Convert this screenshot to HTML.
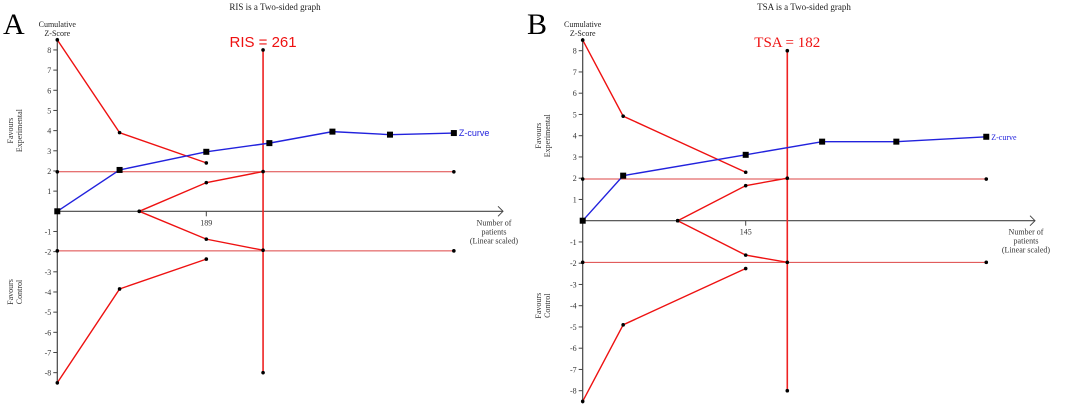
<!DOCTYPE html>
<html><head><meta charset="utf-8"><style>
html,body{margin:0;padding:0;background:#fff;}
svg{display:block;font-family:"Liberation Serif",serif;}
</style></head><body>
<svg id="chart" width="1065" height="406" viewBox="0 0 1065 406" xmlns="http://www.w3.org/2000/svg"></svg>
<script>
// Panel A data
const aZx = [0, 79, 189, 269, 349, 422, 503];
const aZy = [0, 2.05, 2.95, 3.38, 3.95, 3.8, 3.88];
const aUpX = [0, 79, 189];
const aUpY = [8.5, 3.9, 2.4];
const aLoX = [0, 79, 189];
const aLoY = [-8.5, -3.85, -2.37];
const aFutX = [104, 189, 261];
const aFutUpY = [0, 1.42, 1.97];
const aFutLoY = [0, -1.38, -1.93];
const aIS = 261;
const aTick = 189;
const aXMax = 503;
// Panel B data
const bZx = [0, 36, 145, 213, 279, 359];
const bZy = [0, 2.12, 3.1, 3.72, 3.72, 3.95];
const bUpX = [0, 36, 145];
const bUpY = [8.5, 4.92, 2.28];
const bLoX = [0, 36, 145];
const bLoY = [-8.5, -4.9, -2.25];
const bFutX = [84.5, 145, 182];
const bFutUpY = [0, 1.65, 2.0];
const bFutLoY = [0, -1.62, -1.96];
const bIS = 182;
const bTick = 145;
const bXMax = 359;
const yTicks = [8,7,6,5,4,3,2,1,-1,-2,-3,-4,-5,-6,-7,-8];
const conv = 1.96;

const NS = "http://www.w3.org/2000/svg";
const svg = document.getElementById('chart');
function mk(tag, attrs, parent, text){
  const e = document.createElementNS(NS, tag);
  for (const k in attrs) e.setAttribute(k, attrs[k]);
  if (text !== undefined) e.textContent = text;
  (parent||svg).appendChild(e);
  return e;
}
function panel(o){
  const g = mk('g', {});
  
  
  const X = v => o.x0 + v * o.sx;
  const Y = v => o.y0 - v * o.sy;
  let t;
  t = mk('text', {x:o.titleX, y:10, 'font-size':9, 'text-anchor':'middle', fill:'#222'}, g, o.title);
   
  t = mk('text', {x:o.letterX, y:34, 'font-size':30, fill:'#000'}, g, o.letter);
   
  t = mk('text', {x:o.x0, y:27, 'font-size':8, 'text-anchor':'middle', fill:'#222'}, g, 'Cumulative');
   
  t = mk('text', {x:o.x0, y:36, 'font-size':8, 'text-anchor':'middle', fill:'#222'}, g, 'Z-Score');
   
  // side labels
  const fe = mk('text', {transform:`translate(${o.sideX},${Y(4)}) rotate(-90)`, 'font-size':8, 'text-anchor':'middle', fill:'#333'}, g);
   
  mk('tspan', {x:0, dy:0}, fe, 'Favours');
  mk('tspan', {x:0, dy:9}, fe, 'Experimental');
  const fc = mk('text', {transform:`translate(${o.sideX},${Y(-4)}) rotate(-90)`, 'font-size':8, 'text-anchor':'middle', fill:'#333'}, g);
   
  mk('tspan', {x:0, dy:0}, fc, 'Favours');
  mk('tspan', {x:0, dy:9}, fc, 'Control');
  // y axis
  let l = mk('line', {x1:X(0), y1:Y(8.6), x2:X(0), y2:Y(-8.6), stroke:'#444', 'stroke-width':1.2}, g);
   
  yTicks.forEach(v => {
    const tk = mk('line', {x1:X(0)-4, y1:Y(v), x2:X(0), y2:Y(v), stroke:'#444'}, g);
     
    const tl = mk('text', {x:X(0)-6, y:Y(v)+3, 'font-size':8, 'text-anchor':'end', fill:'#333'}, g, String(v));
     
  });
  // x axis
  l = mk('line', {x1:X(0), y1:Y(0), x2:o.axisEnd, y2:Y(0), stroke:'#444', 'stroke-width':1.2}, g);
   
  const ar = mk('path', {d:`M${o.axisEnd-5},${Y(0)-5} L${o.axisEnd},${Y(0)} L${o.axisEnd-5},${Y(0)+5}`, fill:'none', stroke:'#444'}, g);
   
  const xt = mk('line', {x1:X(o.tick), y1:Y(0), x2:X(o.tick), y2:Y(0)+5, stroke:'#444'}, g);
   
  t = mk('text', {x:X(o.tick), y:Y(0)+14, 'font-size':8, 'text-anchor':'middle', fill:'#333'}, g, String(o.tick));
   
  const xl = mk('text', {'font-size':8, 'text-anchor':'middle', fill:'#333'}, g);
   
  [['Number of',0],['patients',9],['(Linear scaled)',18]].forEach(([s,d]) => mk('tspan', {x:o.axisEnd-9, y:Y(0)+14+d}, xl, s));
  // lines helper
  function poly(xs, ys, color, w, name, marker){
    const pts = xs.map((x,i) => X(x)+','+Y(ys[i])).join(' ');
    const p = mk('polyline', {points:pts, fill:'none', stroke:color, 'stroke-width':w}, g);
     
    xs.forEach((x,i) => {
      let m;
      if (marker === 'sq') m = mk('rect', {x:X(x)-3, y:Y(ys[i])-3, width:6, height:6, fill:'#000'}, g);
      else m = mk('circle', {cx:X(x), cy:Y(ys[i]), r:1.8, fill:'#000'}, g);
       
    });
  }
  poly([0, o.xMax], [conv, conv], '#d44', 1, 'conventional-upper-boundary');
  poly([0, o.xMax], [-conv, -conv], '#d44', 1, 'conventional-lower-boundary');
  poly([o.is, o.is], [8, -8], '#e22', 1.6, 'information-size-line');
  poly(o.upX, o.upY, '#e11', 1.4, 'upper-monitoring-boundary');
  poly(o.loX, o.loY, '#e11', 1.4, 'lower-monitoring-boundary');
  poly(o.futX, o.futUpY, '#e11', 1.4, 'futility-upper-boundary');
  poly(o.futX, o.futLoY, '#e11', 1.4, 'futility-lower-boundary');
  poly(o.zx, o.zy, '#22d', 1.4, 'z-curve', 'sq');
  const zl = mk('text', {x:X(o.zx[o.zx.length-1])+5, y:Y(o.zy[o.zy.length-1])+3, 'font-size':o.zFont, fill:'#22d', 'font-family':o.zFam}, g, 'Z-curve');
   
  const il = mk('text', {x:X(o.is), y:47, 'font-size':15, 'text-anchor':'middle', fill:'#e11', 'font-family':o.isFam}, g, o.isLabel + ' = ' + o.is);
   
}
panel({id:'a', letter:'A', letterX:3, title:'RIS is a Two-sided graph', titleX:275, x0:57.3, y0:211.3, sx:149/189, sy:20.17, axisEnd:503,
  sideX:13, tick:aTick, xMax:aXMax, is:aIS, isLabel:'RIS', isFam:'Liberation Sans, sans-serif', zFont:9, zFam:'Liberation Sans, sans-serif',
  zx:aZx, zy:aZy, upX:aUpX, upY:aUpY, loX:aLoX, loY:aLoY, futX:aFutX, futUpY:aFutUpY, futLoY:aFutLoY});
panel({id:'b', letter:'B', letterX:527, title:'TSA is a Two-sided graph', titleX:804, x0:582.7, y0:220.7, sx:163/145, sy:21.25, axisEnd:1035,
  sideX:541, tick:bTick, xMax:bXMax, is:bIS, isLabel:'TSA', isFam:'Liberation Serif, serif', zFont:8, zFam:'Liberation Serif, serif',
  zx:bZx, zy:bZy, upX:bUpX, upY:bUpY, loX:bLoX, loY:bLoY, futX:bFutX, futUpY:bFutUpY, futLoY:bFutLoY});
</script>
</body></html>
